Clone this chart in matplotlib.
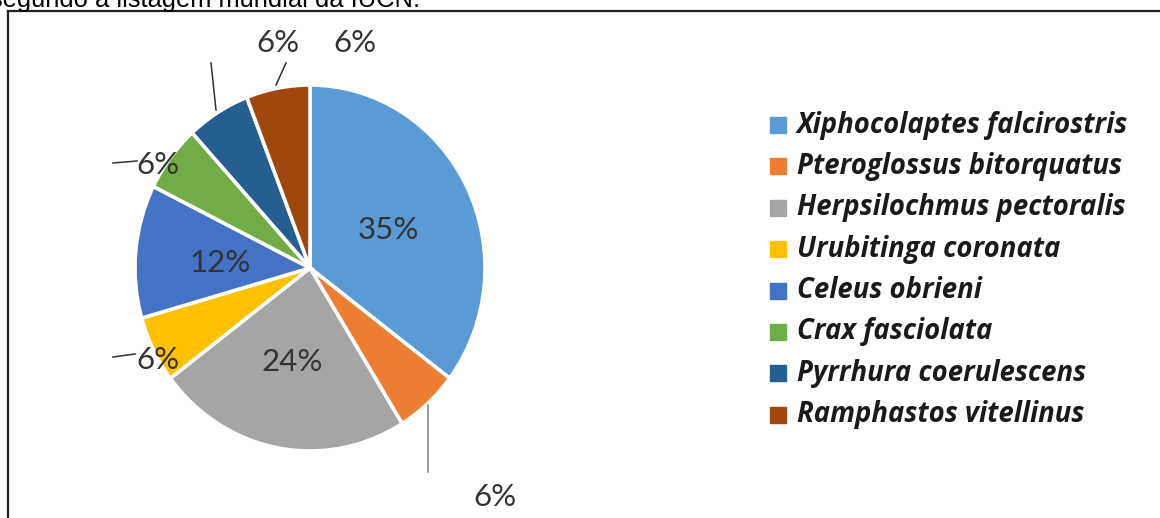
import matplotlib
matplotlib.use("Agg")
import matplotlib.pyplot as plt
from matplotlib.patches import Rectangle
from matplotlib.lines import Line2D

# Species recorded and their share of records
species = [
    "Xiphocolaptes falcirostris",
    "Pteroglossus bitorquatus",
    "Herpsilochmus pectoralis",
    "Urubitinga coronata",
    "Celeus obrieni",
    "Crax fasciolata",
    "Pyrrhura coerulescens",
    "Ramphastos vitellinus",
]
counts = [6, 1, 4, 1, 2, 1, 1, 1]
colors = ["#5B9BD5", "#ED7D31", "#A5A5A5", "#FFC000",
          "#4472C4", "#70AD47", "#255E91", "#9E480E"]

W, H = 1160, 518
fig = plt.figure(figsize=(W / 100, H / 100), dpi=100)

# pixel helpers (origin top-left)
def fx(px):
    return px / W

def fy(py):
    return 1 - py / H

# pie axes: slightly taller than wide
cx, cy, rx, ry = 310, 268, 175, 183
ax = fig.add_axes([fx(cx - rx), fy(cy + ry), 2 * rx / W, 2 * ry / H])
ax.axis("off")

wedges, _ = ax.pie(counts, colors=colors, startangle=90, counterclock=False,
                   radius=1, center=(0, 0),
                   wedgeprops=dict(edgecolor="white", linewidth=2.6))
ax.set_xlim(-1, 1)
ax.set_ylim(-1, 1)
ax.set_aspect("auto")

total = sum(counts)
pcts = [f"{round(100 * c / total)}%" for c in counts]

def d(px, py):
    return ((px - cx) / rx, (cy - py) / ry)

label_pos = [(388, 230), (495, 497), (292, 362), (158, 360),
             (220, 263), (158, 165), (278, 43), (355, 43)]
pct_font = dict(family="Lato", fontsize=22.5, color="#333333")
for txt, (px, py) in zip(pcts, label_pos):
    x, y = d(px, py)
    ax.text(x, y, txt, ha="center", va="center", clip_on=False, **pct_font)

# leader lines for the outside labels
leaders = [
    ((428, 405), (428, 472), "#808080"),
    ((113, 357), (135, 354), "#303030"),
    ((113, 163), (137, 161), "#303030"),
    ((211, 63), (216, 110), "#303030"),
    ((286, 63), (276, 85), "#303030"),
]
for (p0, p1, c) in leaders:
    x0, y0 = d(*p0)
    x1, y1 = d(*p1)
    ax.add_line(Line2D([x0, x1], [y0, y1], color=c, linewidth=1.1,
                       clip_on=False))

# legend
for i, (name, col) in enumerate(zip(species, colors)):
    yc = 125 + i * 41.4
    fig.patches.append(Rectangle((fx(770), fy(yc + 8)), 16 / W, 16 / H,
                                 transform=fig.transFigure, color=col))
    fig.text(fx(797), fy(yc), name, ha="left", va="center",
             family="Open Sans", fontweight="bold", style="italic",
             fontsize=19.8, color="#1a1a1a")

# frame around the chart
fig.add_artist(Line2D([fx(8), fx(8)], [fy(11), fy(H + 5)],
                      transform=fig.transFigure, color="#202020", linewidth=1.6))
fig.add_artist(Line2D([fx(8), fx(W + 5)], [fy(11), fy(11)],
                      transform=fig.transFigure, color="#202020", linewidth=1.6))

# caption line above the frame (partly off the top edge)
fig.text(fx(420), fy(6.5), "segundo a listagem mundial da IUCN.", ha="right",
         va="baseline", family="Liberation Sans", fontsize=18.4, color="black")

fig.savefig("out.png", dpi=100)
